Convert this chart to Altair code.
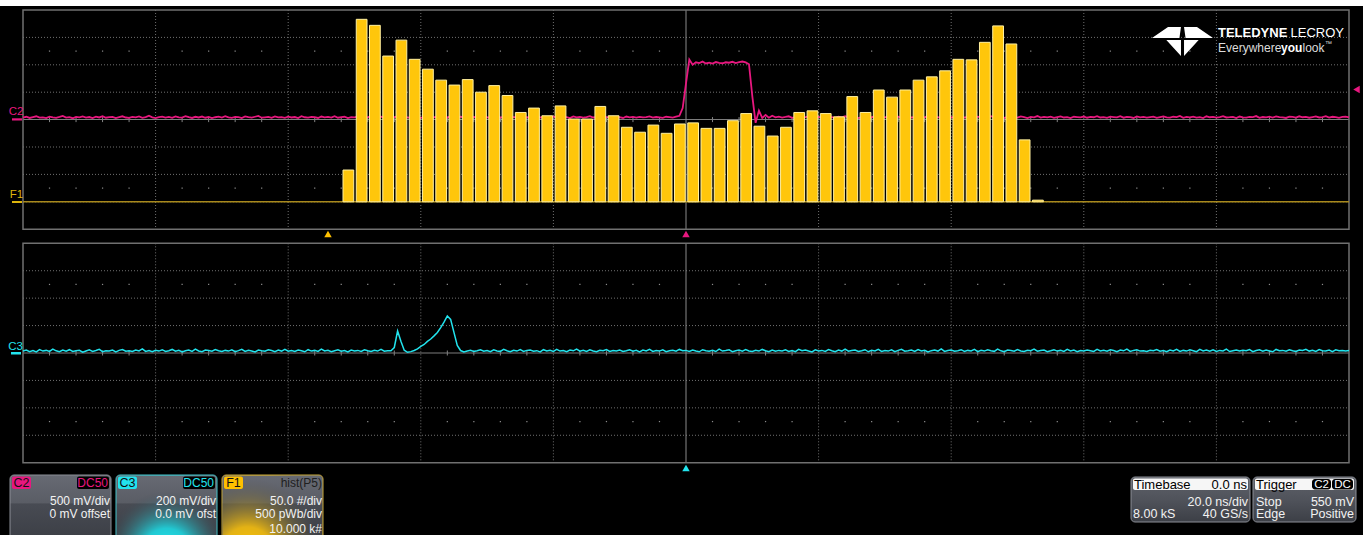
import altair as alt
import numpy as np
import pandas as pd

# ---------------------------------------------------------------------------
# Channel data
# C2 and C3 sampled every 0.5 ns across the 200 ns screen (20 ns/div)
# ---------------------------------------------------------------------------
T_START_NS = -100.0
T_STEP_NS = 0.5

c2_mv = [
    38, 52, 30, 45, 61, 35, 42, 28, 55, 40, 33, 48, 66, 37, 44, 25, 50, 41, 58, 36,
    47, 29, 54, 39, 62, 34, 45, 51, 27, 43, 60, 38, 31, 49, 42, 57, 33, 46, 70, 40,
    28, 44, 53, 36, 48, 31, 59, 42, 37, 64, 45, 30, 51, 39, 56, 34, 47, 26, 43, 55,
    38, 61, 41, 32, 50, 46, 29, 57, 44, 36, 52, 67, 35, 42, 48, 31, 58, 40, 45, 33,
    54, 39, 47, 28, 62, 43, 36, 51, 45, 30, 56, 41, 49, 37, 63, 34, 46, 52, 29, 44,
    40, 57, 35, 48, 42, 66, 31, 45, 53, 38, 27, 50, 44, 59, 36, 47, 41, 33, 55, 46,
    32, 49, 60, 37, 43, 51, 28, 46, 39, 58, 45, 35, 52, 41, 64, 30, 48, 42, 37, 56,
    43, 34, 50, 61, 38, 45, 29, 53, 47, 40, 57, 33, 44, 36, 51, 62, 39, 46, 31, 48,
    55, 41, 36, 49, 44, 27, 58, 42, 50, 35, 46, 63, 38, 43, 32, 54, 47, 40, 52, 37,
    45, 30, 56, 42, 48, 35, 51, 39, 44, 58, 36, 47, 41, 33, 52, 46, 38, 55, 70, 210,
    660, 1095, 1000, 1045, 1030, 1058, 1025, 1040, 1022, 1050,
    1035, 1028, 1046, 1038, 1055, 1032, 1048, 1060, 1044, 1010,
    430, -60, 165, 30, 85, 35, 70, 42, 55, 38, 48, 60, 33, 45, 52, 40, 47, 58, 36, 44,
    49, 35, 57, 42, 46, 31, 53, 40, 61, 37, 45, 50, 28, 47, 55, 39, 43, 64, 34, 48,
    41, 56, 36, 44, 52, 30, 47, 59, 38, 45, 33, 51, 42, 66, 37, 49, 44, 29, 54, 40,
    46, 35, 60, 43, 38, 52, 47, 31, 55, 41, 48, 36, 62, 44, 39, 57, 32, 46, 50, 43,
    37, 58, 45, 29, 51, 42, 65, 36, 48, 40, 54, 33, 46, 59, 38, 44, 27, 52, 47, 41,
    56, 34, 49, 43, 61, 38, 45, 32, 53, 47, 40, 63, 35, 50, 44, 30, 57, 42, 48, 37,
    45, 53, 31, 46, 58, 40, 36, 52, 44, 67, 33, 48, 41, 55, 38, 46, 29, 60, 43, 50,
    35, 47, 62, 39, 44, 51, 28, 56, 42, 37, 49, 45, 64, 33, 47, 40, 53, 36, 58, 44,
    41, 30, 55, 48, 37, 60, 43, 50, 34, 46, 57, 39, 45, 63, 38, 52, 44, 31, 49, 55,
    42,
]

c3_mv = [
    15, 22, 10, 18, 8, 25, 14, 19, 12, 28, 16, 9, 21, 13, 24, 11, 17, 20, 6, 15,
    23, 12, 18, 27, 10, 16, 14, 21, 8, 19, 25, 13, 17, 11, 22, 15, 30, 12, 18, 9,
    20, 14, 24, 11, 17, 26, 13, 19, 7, 16, 22, 12, 28, 15, 10, 21, 18, 13, 25, 16,
    11, 19, 14, 23, 9, 17, 27, 12, 20, 15, 8, 22, 16, 13, 24, 18, 10, 21, 14, 26,
    13, 18, 11, 22, 16, 9, 24, 14, 19, 12, 28, 15, 20, 10, 17, 23, 13, 18, 8, 21,
    15, 19, 12, 24, 16, 11, 20, 14, 26, 13, 17, 16, 40, 160, 85, 20, 5, 10, 18, 30,
    48, 62, 85, 102, 125, 150, 185, 225, 270, 245, 150, 55, 18, 8, 14, 20, 11, 17, 24, 13,
    18, 10, 23, 15, 12, 27, 16, 9, 20, 14, 25, 11, 19, 22, 13, 17, 8, 24, 15, 20,
    12, 26, 14, 18, 10, 21, 16, 29, 13, 19, 11, 23, 15, 9, 20, 17, 25, 12, 18, 14,
    22, 11, 16, 24, 13, 19, 8, 21, 15, 27, 12, 18, 14, 23, 10, 17, 20, 13, 26, 16,
    19, 12, 22, 15, 9, 24, 17, 13, 20, 11, 28, 14, 18, 23, 10, 16, 21, 13, 25, 15,
    11, 20, 14, 26, 17, 9, 22, 13, 19, 15, 24, 12, 18, 10, 27, 16, 21, 14, 8, 23,
    15, 19, 12, 25, 17, 10, 21, 14, 28, 13, 18, 22, 11, 16, 24, 9, 20, 15, 26, 12,
    18, 14, 23, 10, 19, 27, 13, 16, 21, 11, 25, 15, 20, 8, 17, 22, 14, 30, 12, 18,
    21, 13, 16, 24, 11, 19, 15, 26, 10, 20, 14, 23, 17, 12, 28, 16, 9, 22, 18, 13,
    25, 15, 11, 20, 17, 29, 13, 18, 22, 10, 16, 24, 14, 19, 12, 27, 15, 21, 9, 18,
    14, 22, 17, 11, 26, 15, 20, 13, 24, 18, 10, 21, 16, 28, 12, 19, 23, 14, 17, 11,
    20, 16, 25, 13, 18, 9, 22, 15, 27, 12, 19, 14, 23, 17, 10, 26, 15, 21, 13, 24,
    12, 19, 15, 28, 11, 17, 22, 14, 20, 16, 25, 10, 18, 23, 13, 21, 15, 9, 26, 17,
    19, 13, 24, 16, 11, 22, 18, 27, 14, 20, 12, 25, 17, 15, 21, 10, 23, 16, 19, 14,
    18,
]

# F1: histogram of parameter P5 (flux), 50 pWb bins
HIST_FIRST_EDGE_PWB = -1300
HIST_BIN_PWB = 50
hist_counts = [
    58, 333, 322, 266, 295, 260, 242, 222, 213, 223,
    200, 212, 194, 163, 171, 157, 175, 151, 151, 174,
    157, 136, 127, 140, 125, 142, 144, 134, 134, 148,
    161, 138, 120, 136, 163, 166, 161, 155, 192, 163,
    204, 191, 204, 222, 228, 239, 260, 259, 291, 321,
    288, 113, 3,
]

# Trigger level on C2
TRIGGER_MV = 550

# ---------------------------------------------------------------------------
# Screen geometry (pixels) and scales
# ---------------------------------------------------------------------------
XL, XR = 23, 1349
TOP_Y0, TOP_Y1 = 10, 229.2
BOT_Y0, BOT_Y1 = 243.3, 462.7
TOP_MID = (TOP_Y0 + TOP_Y1) / 2
BOT_MID = (BOT_Y0 + BOT_Y1) / 2

time_scale = alt.Scale(domain=[-100, 100], range=[XL, XR], nice=False, zero=False)
pwb_scale = alt.Scale(domain=[-2500, 2500], range=[XL, XR], nice=False, zero=False)
c2_scale = alt.Scale(domain=[-2000, 2000], range=[TOP_Y1, TOP_Y0], nice=False, zero=False)
f1_scale = alt.Scale(domain=[-50, 350], range=[TOP_Y1, TOP_Y0], nice=False, zero=False)
c3_scale = alt.Scale(domain=[-800, 800], range=[BOT_Y1, BOT_Y0], nice=False, zero=False)

FONT = "Liberation Sans"
MAGENTA = "#e8177f"
CYAN = "#22e4ee"
GOLD = "#ffc60b"
GRID = "#707070"

one = pd.DataFrame({"k": [0]})

# ---------------------------------------------------------------------------
# Data frames
# ---------------------------------------------------------------------------
c2_df = pd.DataFrame({"t": T_START_NS + T_STEP_NS * np.arange(len(c2_mv)), "mv": c2_mv})
c3_df = pd.DataFrame({"t": T_START_NS + T_STEP_NS * np.arange(len(c3_mv)), "mv": c3_mv})
edges = HIST_FIRST_EDGE_PWB + HIST_BIN_PWB * np.arange(len(hist_counts))
hist_df = pd.DataFrame({"start": edges, "end": edges + HIST_BIN_PWB, "count": hist_counts})

div_t = np.arange(-80, 81, 20)
div_t = div_t[div_t != 0]
sub_t = np.arange(-96, 97, 4)
sub_t = sub_t[(sub_t % 20) != 0]
top_h = [-1500, -1000, -500, 500, 1000, 1500]
bot_h = [-600, -400, -200, 200, 400, 600]


# ---------------------------------------------------------------------------
# Helpers for the instrument chrome
# ---------------------------------------------------------------------------
def text(s, x, y, color, size=12, align="left", weight="normal"):
    return alt.Chart(one).mark_text(
        text=s, align=align, baseline="middle", fontSize=size,
        fontWeight=weight, font=FONT, color=color,
    ).encode(x=alt.value(x), y=alt.value(y))


def rect(x1, x2, y1, y2, fill, stroke=None, radius=0, sw=1.0):
    kw = dict(fill=fill, cornerRadius=radius)
    if stroke is not None:
        kw.update(stroke=stroke, strokeWidth=sw)
    return alt.Chart(one).mark_rect(**kw).encode(
        x=alt.value(x1), x2=alt.value(x2), y=alt.value(y1), y2=alt.value(y2)
    )


def marker(x, y, color, shape="triangle-up", size=56):
    return alt.Chart(one).mark_point(
        shape=shape, filled=True, size=size, color=color, opacity=1, strokeWidth=0
    ).encode(x=alt.value(x), y=alt.value(y))


def lin(stops):
    return alt.LinearGradient(
        gradient="linear", x1=0, x2=0, y1=0, y2=1,
        stops=[alt.GradientStop(color=c, offset=o) for o, c in stops],
    )


def rad(cx, cy, r, stops):
    return alt.RadialGradient(
        gradient="radial", x1=cx, y1=cy, r1=0, x2=cx, y2=cy, r2=r,
        stops=[alt.GradientStop(color=c, offset=o) for o, c in stops],
    )


layers = []

# white strip above the screen
layers.append(rect(0, 1363, 0, 6, "#ffffff"))

# ----- graticule ----------------------------------------------------------
for y0, y1 in [(TOP_Y0, TOP_Y1), (BOT_Y0, BOT_Y1)]:
    layers.append(
        alt.Chart(pd.DataFrame({"t": div_t})).mark_rule(
            color=GRID, strokeWidth=1, strokeDash=[1, 2]
        ).encode(x=alt.X("t:Q", scale=time_scale, axis=None),
                 y=alt.value(y0), y2=alt.value(y1))
    )
layers.append(
    alt.Chart(pd.DataFrame({"mv": top_h})).mark_rule(
        color=GRID, strokeWidth=1, strokeDash=[1, 2]
    ).encode(y=alt.Y("mv:Q", scale=c2_scale, axis=None),
             x=alt.value(XL), x2=alt.value(XR))
)
layers.append(
    alt.Chart(pd.DataFrame({"mv": bot_h})).mark_rule(
        color=GRID, strokeWidth=1, strokeDash=[1, 2]
    ).encode(y=alt.Y("mv:Q", scale=c3_scale, axis=None),
             x=alt.value(XL), x2=alt.value(XR))
)
# sub-division dots at +/-2.5 div
dots_top = pd.DataFrame([(t, v) for t in sub_t for v in (-1250, 1250)], columns=["t", "mv"])
dots_bot = pd.DataFrame([(t, v) for t in sub_t for v in (-500, 500)], columns=["t", "mv"])
layers.append(
    alt.Chart(dots_top).mark_square(size=1.5, color="#8a8a8a", opacity=1).encode(
        x=alt.X("t:Q", scale=time_scale, axis=None), y=alt.Y("mv:Q", scale=c2_scale, axis=None))
)
layers.append(
    alt.Chart(dots_bot).mark_square(size=1.5, color="#8a8a8a", opacity=1).encode(
        x=alt.X("t:Q", scale=time_scale, axis=None), y=alt.Y("mv:Q", scale=c3_scale, axis=None))
)
# centre cross with minor ticks
for mid, y0, y1 in [(TOP_MID, TOP_Y0, TOP_Y1), (BOT_MID, BOT_Y0, BOT_Y1)]:
    layers.append(
        alt.Chart(pd.DataFrame({"t": sub_t})).mark_rule(color="#858585", strokeWidth=1).encode(
            x=alt.X("t:Q", scale=time_scale, axis=None),
            y=alt.value(mid - 2.5), y2=alt.value(mid + 2.5))
    )
    layers.append(rect(XL, XR, mid - 0.5, mid + 0.5, "#7c7c7c"))
    layers.append(
        alt.Chart(pd.DataFrame({"t": [0]})).mark_rule(color="#8a8a8a", strokeWidth=1).encode(
            x=alt.X("t:Q", scale=time_scale, axis=None),
            y=alt.value(y0), y2=alt.value(y1))
    )
    layers.append(rect(XL, XR, y0, y1, "transparent", stroke="#707070", sw=1.5))

# ----- traces ---------------------------------------------------------------
layers.append(
    alt.Chart(one).mark_rule(color="#a8891c", strokeWidth=1.6).encode(
        y=alt.Y(datum=0, scale=f1_scale, axis=None), x=alt.value(XL), x2=alt.value(XR))
)
layers.append(
    alt.Chart(c2_df).mark_line(color=MAGENTA, strokeWidth=1.8).encode(
        x=alt.X("t:Q", scale=time_scale, axis=None),
        y=alt.Y("mv:Q", scale=c2_scale, axis=None))
)
layers.append(
    alt.Chart(hist_df).mark_bar(
        fill=GOLD, stroke="#fff0a0", strokeWidth=1, binSpacing=2.5, opacity=1
    ).encode(
        x=alt.X("start:Q", bin="binned", scale=pwb_scale, axis=None),
        x2="end:Q",
        y=alt.Y("count:Q", scale=f1_scale, axis=None),
        y2=alt.Y2(datum=0),
    )
)
layers.append(
    alt.Chart(c3_df).mark_line(color=CYAN, strokeWidth=1.5).encode(
        x=alt.X("t:Q", scale=time_scale, axis=None),
        y=alt.Y("mv:Q", scale=c3_scale, axis=None))
)

# ----- trace labels and markers --------------------------------------------
layers += [
    text("C2", 16, 112, MAGENTA, size=11.5, align="center"),
    rect(12, 22, 118.3, 120.5, MAGENTA),
    text("F1", 16.5, 195, "#dcb40c", size=11.5, align="center"),
    rect(12, 22, 201, 203, "#dcb40c"),
    text("C3", 15.5, 346.5, CYAN, size=11.5, align="center"),
    rect(11, 21, 352, 354.5, CYAN),
    marker(328, 234, "#ffc000"),
    marker(686, 234, MAGENTA),
    marker(686, 468, CYAN),
]
layers.append(
    alt.Chart(one).mark_point(shape="triangle-left", filled=True, size=56, color=MAGENTA,
                              opacity=1, strokeWidth=0).encode(
        x=alt.value(1356.5), y=alt.Y(datum=TRIGGER_MV, scale=c2_scale, axis=None))
)

# ----- logo -----------------------------------------------------------------
LOGO_PATH = (
    "M-1,-0.115L-0.475,-0.475L-0.05,-0.475L-0.1,-0.115Z"
    "M1,-0.115L0.475,-0.475L0.05,-0.475L0.1,-0.115Z"
    "M-0.53,-0.05L-0.05,-0.05L-0.05,0.475Z"
    "M0.53,-0.05L0.05,-0.05L0.05,0.475Z"
)
layers.append(
    alt.Chart(one).mark_point(shape=LOGO_PATH, filled=True, size=3721, color="#ffffff",
                              opacity=1, strokeWidth=0).encode(
        x=alt.value(1182.5), y=alt.value(41.5))
)
layers += [
    text("TELEDYNE", 1218, 33, "#ffffff", size=13, weight="bold"),
    text("LECROY", 1344, 33, "#ffffff", size=13, align="right"),
    text("Everywhere", 1218, 47.5, "#dcdcdc", size=12),
    text("you", 1281, 47.5, "#ffffff", size=12, weight="bold"),
    text("look", 1302.5, 47.5, "#dcdcdc", size=12),
    text("\u2122", 1325, 44, "#dcdcdc", size=7),
]

# ----- channel descriptor boxes ---------------------------------------------
BOX_BG = lin([(0, "#676a73"), (0.42, "#5a5d65"), (0.44, "#484b53"), (1, "#3b3e45")])
L1, L2, L3, L4 = 483, 501, 513.5, 527.5
WHITE = "#f2f2f2"
BOX_Y0, BOX_Y1 = 475, 541

# C2
layers += [
    rect(10, 111, BOX_Y0, BOX_Y1, BOX_BG, stroke="#8b8e96", radius=4),
    rect(12, 31, 476.5, 489, MAGENTA, radius=2),
    text("C2", 21.5, L1, "#111111", size=12.5, align="center"),
    rect(77, 109, 476.5, 489, "#000000", radius=2),
    text("DC50", 108, L1, MAGENTA, size=12, align="right"),
    text("500 mV/div", 110, L2, WHITE, align="right"),
    text("0 mV offset", 110, L3, WHITE, align="right"),
]
# C3
layers += [
    rect(116, 217, BOX_Y0, BOX_Y1, BOX_BG, stroke="#46c4cc", radius=4),
    rect(116.5, 216.5, BOX_Y0 + 0.5, BOX_Y1,
         rad(0.5, 0.95, 0.62, [(0, "rgba(34,240,248,1)"), (0.4, "rgba(30,215,225,0.9)"),
                               (0.75, "rgba(50,140,150,0.35)"), (1, "rgba(60,70,80,0)")]),
         radius=4),
    rect(118, 137, 476.5, 489, CYAN, radius=2),
    text("C3", 127.5, L1, "#111111", size=12.5, align="center"),
    rect(183, 215, 476.5, 489, "#000000", radius=2),
    text("DC50", 214, L1, CYAN, size=12, align="right"),
    text("200 mV/div", 216, L2, WHITE, align="right"),
    text("0.0 mV ofst", 216, L3, WHITE, align="right"),
]
# F1
layers += [
    rect(222, 323, BOX_Y0, BOX_Y1, BOX_BG, stroke="#c8a83a", radius=4),
    rect(222.5, 322.5, BOX_Y0 + 0.5, BOX_Y1,
         rad(0.25, 0.95, 0.75, [(0, "rgba(255,200,0,1)"), (0.35, "rgba(245,190,15,0.9)"),
                                (0.75, "rgba(140,120,50,0.35)"), (1, "rgba(80,80,80,0)")]),
         radius=4),
    rect(224, 243, 476.5, 489, "#ffc000", radius=2),
    text("F1", 233.5, L1, "#111111", size=12.5, align="center"),
    text("hist(P5)", 322, L1, "#202020", align="right"),
    text("50.0 #/div", 322, L2, WHITE, align="right"),
    text("500 pWb/div", 322, L3, WHITE, align="right"),
    text("10.000 k#", 322, L4 + 1.5, WHITE, align="right"),
]

# ----- timebase and trigger boxes -------------------------------------------
TB_BG = lin([(0, "#5e6169"), (0.5, "#50535b"), (1, "#3c3f46")])
R2, R3 = 501.5, 514
layers += [
    rect(1131, 1250, 477, 522, TB_BG, stroke="#8b8e96", radius=4),
    rect(1133, 1248, 478.5, 490, "#f6f6f6", radius=2),
    text("Timebase", 1134, 484.5, "#000000", size=13),
    text("0.0 ns", 1247, 484.5, "#000000", size=13, align="right"),
    text("20.0 ns/div", 1248, R2, WHITE, size=12.5, align="right"),
    text("8.00 kS", 1133, R3, WHITE, size=12.5),
    text("40 GS/s", 1248, R3, WHITE, size=12.5, align="right"),

    rect(1253, 1356, 477, 522, TB_BG, stroke="#8b8e96", radius=4),
    rect(1255, 1354, 478.5, 490, "#f6f6f6", radius=2),
    text("Trigger", 1256, 484.5, "#000000", size=13),
    rect(1312, 1331, 479, 489.5, "#000000", radius=3),
    text("C2", 1321.5, 484.5, "#ffffff", size=11.5, align="center"),
    rect(1332, 1353, 479, 489.5, "#000000", radius=3),
    text("DC", 1342.5, 484.5, "#ffffff", size=11.5, align="center"),
    text("Stop", 1256, R2, WHITE, size=12.5),
    text("550 mV", 1354, R2, WHITE, size=12.5, align="right"),
    text("Edge", 1256, R3, WHITE, size=12.5),
    text("Positive", 1354, R3, WHITE, size=12.5, align="right"),
]

chart = (
    alt.layer(*layers)
    .properties(width=1363, height=535, padding=0,
                autosize=alt.AutoSizeParams(type="none"), background="#000000")
    .resolve_scale(x="independent", y="independent")
    .configure_view(strokeWidth=0)
)

chart.save("out.html", embed_options={"renderer": "svg", "actions": False})
